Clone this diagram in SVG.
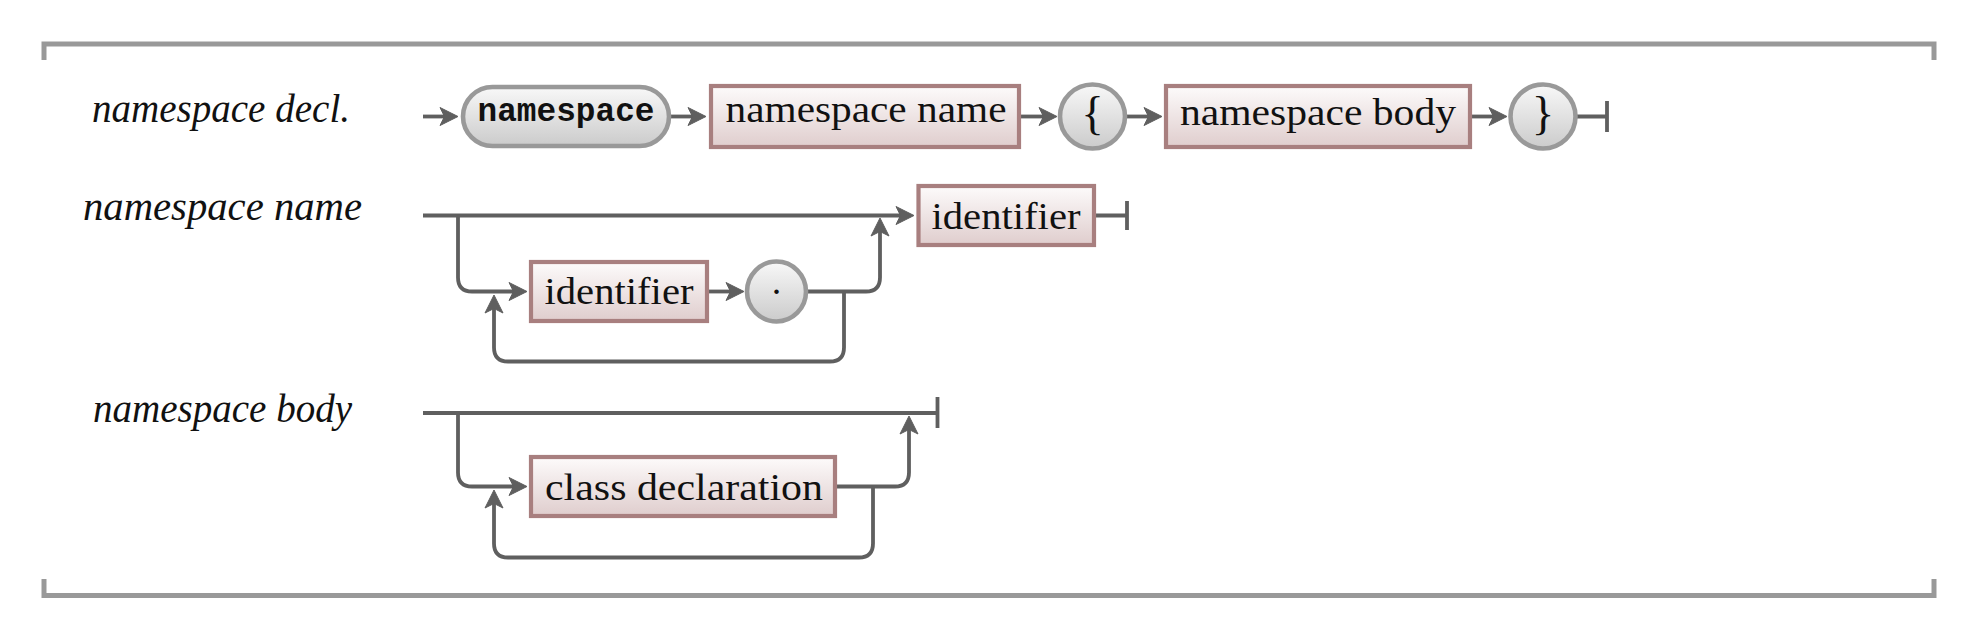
<svg xmlns="http://www.w3.org/2000/svg" width="1973" height="640" viewBox="0 0 1973 640">
<defs>
<linearGradient id="gRect" x1="0" y1="0" x2="0" y2="1">
<stop offset="0" stop-color="#fdfbfb"/>
<stop offset="1" stop-color="#dfcdcd"/>
</linearGradient>
<linearGradient id="gTerm" x1="0" y1="0" x2="0" y2="1">
<stop offset="0" stop-color="#f8f8f8"/>
<stop offset="1" stop-color="#cbcbcb"/>
</linearGradient>
<marker id="arr" markerUnits="userSpaceOnUse" markerWidth="30" markerHeight="30" viewBox="-20 -15 30 30" refX="0" refY="0" orient="auto" overflow="visible">
<path d="M 4 0 L -14 -9 L -9.5 0 L -14 9 Z" fill="#5f5f5f" stroke="#5f5f5f" stroke-width="1" stroke-linejoin="round"/>
</marker>
</defs>
<style>
.line{fill:none;stroke:#5f5f5f;stroke-width:3.8;stroke-linejoin:round}
.arrow{marker-end:url(#arr)}
.bracket{fill:none;stroke:#999999;stroke-width:5}
.nt{fill:url(#gRect);stroke:#a87f7f;stroke-width:4.2}
.t{fill:url(#gTerm);stroke:#999999;stroke-width:4.6}
.lbl{font-family:"Liberation Serif",serif;font-style:italic;font-size:39px;fill:#111}
.txt{font-family:"Liberation Serif",serif;font-size:38px;fill:#111}
.brace{font-family:"Liberation Serif",serif;font-size:47px;fill:#111}
.kw{font-family:"Liberation Mono",monospace;font-weight:bold;font-size:33px;fill:#111}
</style>

<g id="frame">
<path class="bracket" d="M 44 60 V 44 H 1934 V 60"/>
<path class="bracket" d="M 44 579 V 595.5 H 1934 V 579"/>
</g>

<g id="labels">
<text class="lbl" x="221" y="122" text-anchor="middle" textLength="258" lengthAdjust="spacingAndGlyphs">namespace decl.</text>
<text class="lbl" x="222.5" y="220" text-anchor="middle" textLength="279" lengthAdjust="spacingAndGlyphs">namespace name</text>
<text class="lbl" x="222.5" y="422" text-anchor="middle" textLength="259" lengthAdjust="spacingAndGlyphs">namespace body</text>
</g>

<g id="connectors">
<!-- row 1 -->
<path class="line arrow" d="M 423 116.5 H 454"/>
<path class="line arrow" d="M 671 116.5 H 702"/>
<path class="line arrow" d="M 1021 116.5 H 1053"/>
<path class="line arrow" d="M 1127 116.5 H 1158"/>
<path class="line arrow" d="M 1472 116.5 H 1503"/>
<path class="line" d="M 1577 116.5 H 1607 M 1607 101 V 132"/>
<!-- row 2 -->
<path class="line arrow" d="M 423 215.5 H 910"/>
<path class="line arrow" d="M 458 215.5 V 277.5 Q 458 291.5 472 291.5 H 523"/>
<path class="line arrow" d="M 709 291.5 H 740"/>
<path class="line arrow" d="M 808 291.5 H 866 Q 880 291.5 880 277.5 V 222"/>
<path class="line arrow" d="M 844 291.5 V 347.5 Q 844 361.5 830 361.5 H 508 Q 494 361.5 494 347.5 V 299"/>
<path class="line" d="M 1096 215.5 H 1127 M 1127 201 V 230"/>
<!-- row 3 -->
<path class="line" d="M 423 413 H 937.5 M 937.5 397 V 428"/>
<path class="line arrow" d="M 458 413 V 472.5 Q 458 486.5 472 486.5 H 523"/>
<path class="line arrow" d="M 837 486.5 H 895 Q 909 486.5 909 472.5 V 420"/>
<path class="line arrow" d="M 873 486.5 V 543.5 Q 873 557.5 859 557.5 H 508 Q 494 557.5 494 543.5 V 494"/>
</g>

<g id="n-kw-namespace">
<rect class="t" x="463" y="87" width="206" height="59" rx="29.5" ry="29.5"/>
<text class="kw" x="566" y="121" text-anchor="middle" textLength="177" lengthAdjust="spacingAndGlyphs">namespace</text>
</g>
<g id="n-namespace-name">
<rect class="nt" x="711" y="86" width="308" height="61"/>
<text class="txt" x="866" y="122" text-anchor="middle" textLength="281" lengthAdjust="spacingAndGlyphs">namespace name</text>
</g>
<g id="n-lbrace">
<ellipse class="t" cx="1092.5" cy="116.5" rx="32.5" ry="32"/>
<text class="brace" x="1092.5" y="128.5" text-anchor="middle">{</text>
</g>
<g id="n-namespace-body">
<rect class="nt" x="1166" y="86" width="304" height="61"/>
<text class="txt" x="1318" y="125" text-anchor="middle" textLength="276" lengthAdjust="spacingAndGlyphs">namespace body</text>
</g>
<g id="n-rbrace">
<ellipse class="t" cx="1543" cy="116.5" rx="32.5" ry="32"/>
<text class="brace" x="1543" y="128.5" text-anchor="middle">}</text>
</g>

<g id="n-identifier-final">
<rect class="nt" x="918.5" y="186" width="175.5" height="59"/>
<text class="txt" x="1006" y="228.5" text-anchor="middle" textLength="149" lengthAdjust="spacingAndGlyphs">identifier</text>
</g>
<g id="n-identifier-loop">
<rect class="nt" x="531" y="262" width="176" height="59"/>
<text class="txt" x="619" y="304" text-anchor="middle" textLength="149" lengthAdjust="spacingAndGlyphs">identifier</text>
</g>
<g id="n-dot">
<ellipse class="t" cx="776.5" cy="291.5" rx="29.5" ry="30"/>
<text class="txt" x="776.5" y="294" text-anchor="middle">.</text>
</g>

<g id="n-class-declaration">
<rect class="nt" x="531" y="457" width="304" height="59"/>
<text class="txt" x="684" y="500" text-anchor="middle" textLength="278" lengthAdjust="spacingAndGlyphs">class declaration</text>
</g>
</svg>
